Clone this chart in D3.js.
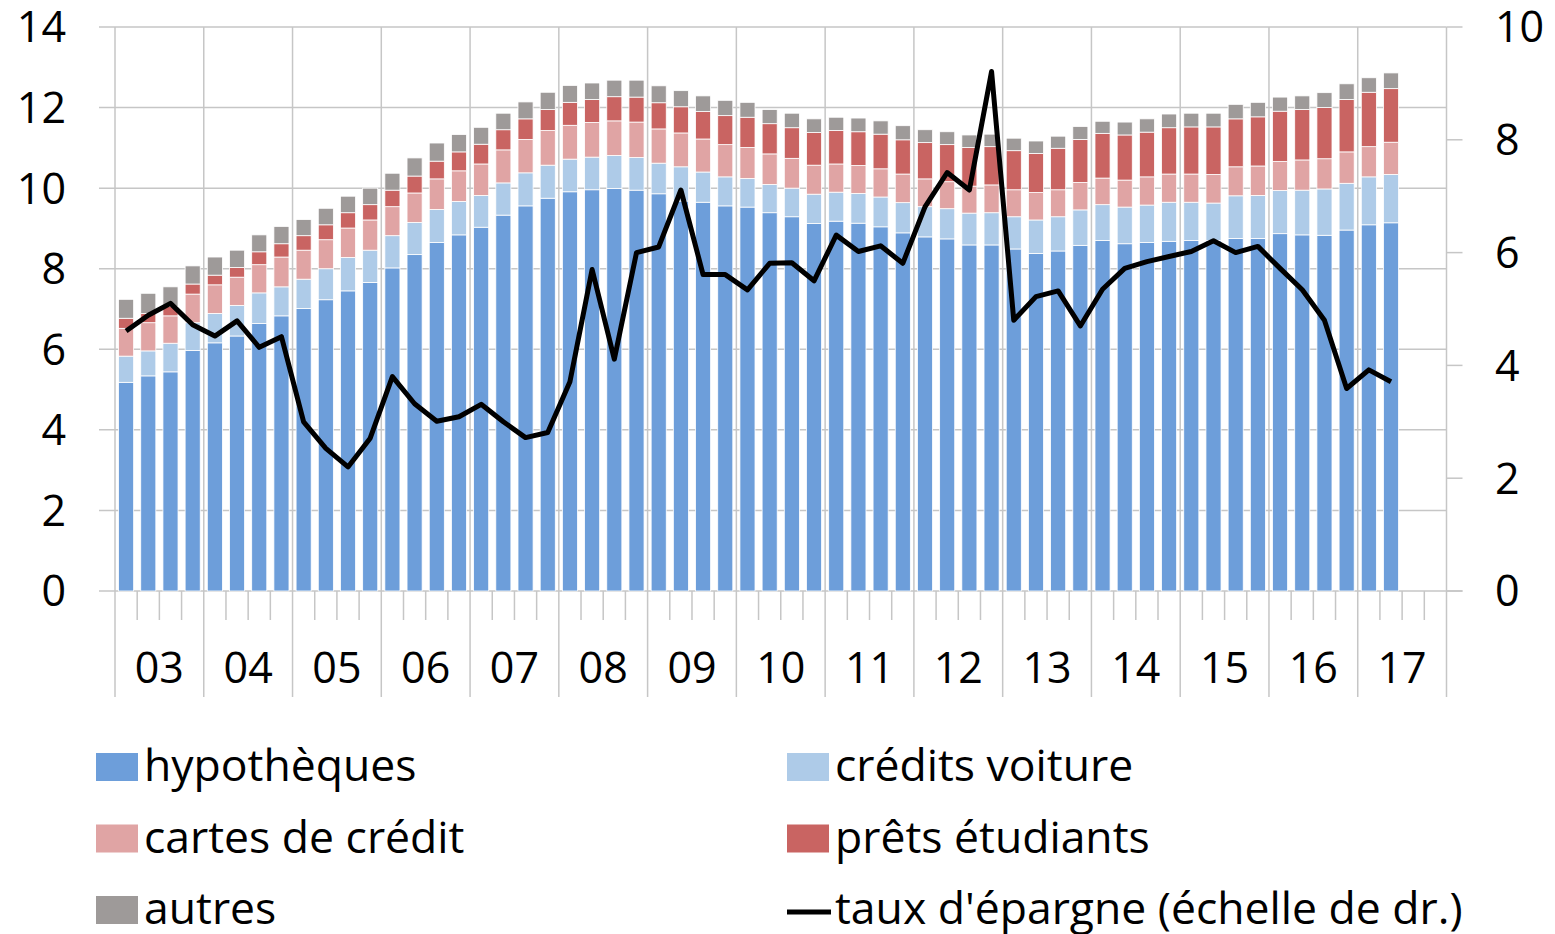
<!DOCTYPE html>
<html lang="fr">
<head>
<meta charset="utf-8">
<title>Dette des ménages et taux d'épargne</title>
<script src="https://cdn.jsdelivr.net/npm/d3@7"></script>
<style>
    body { margin: 0; background: #fff; }
    svg { display: block; font-family: "Open Sans", sans-serif; }
    .grid line { stroke: #c6c6c6; stroke-width: 1.5px; }
    .lbl { font-size: 43px; fill: #000; }
    .leg { font-size: 44.5px; fill: #000; }
    .taux { fill: none; stroke: #000; stroke-width: 5px; stroke-linejoin: round; }
</style>
</head>
<body>
<svg id="chart" width="1555" height="934"></svg>
<script>
    // years on the category axis, each with four quarters
    var years = ['03', '04', '05', '06', '07', '08', '09', '10', '11', '12', '13', '14', '15', '16', '17'];
    var quarters = [];
    years.forEach(function (y) {
        ['T1', 'T2', 'T3', 'T4'].forEach(function (q) { quarters.push(y + q); });
    });

    // stacked components (left scale), 2003T1 .. 2017T2
    var hypotheques = [5.18, 5.34, 5.44, 5.97, 6.16, 6.33, 6.64, 6.83, 7.01, 7.23, 7.45, 7.66, 8.02, 8.35, 8.65, 8.84,
        9.03, 9.33, 9.56, 9.75, 9.91, 9.96, 9.99, 9.95, 9.86, 9.68, 9.65, 9.56, 9.53, 9.39, 9.29, 9.12,
        9.18, 9.13, 9.04, 8.89, 8.79, 8.74, 8.59, 8.59, 8.49, 8.38, 8.44, 8.58, 8.70, 8.62, 8.65, 8.68,
        8.70, 8.70, 8.75, 8.75, 8.87, 8.84, 8.83, 8.96, 9.09, 9.14];
    var creditsVoiture = [0.65, 0.62, 0.71, 0.69, 0.73, 0.76, 0.76, 0.72, 0.73, 0.77, 0.83, 0.80, 0.80, 0.80, 0.82, 0.83,
        0.79, 0.80, 0.82, 0.82, 0.81, 0.81, 0.82, 0.81, 0.76, 0.85, 0.75, 0.72, 0.71, 0.70, 0.71, 0.73,
        0.72, 0.74, 0.74, 0.75, 0.75, 0.75, 0.79, 0.80, 0.80, 0.83, 0.85, 0.88, 0.89, 0.91, 0.93, 0.97,
        0.95, 0.93, 1.06, 1.07, 1.07, 1.11, 1.15, 1.16, 1.19, 1.20];
    var cartesCredit = [0.69, 0.70, 0.68, 0.71, 0.71, 0.70, 0.70, 0.74, 0.72, 0.72, 0.73, 0.75, 0.72, 0.73, 0.76, 0.76,
        0.78, 0.82, 0.83, 0.86, 0.84, 0.86, 0.86, 0.88, 0.85, 0.84, 0.82, 0.80, 0.77, 0.76, 0.74, 0.72,
        0.70, 0.69, 0.70, 0.71, 0.69, 0.67, 0.67, 0.69, 0.67, 0.68, 0.67, 0.68, 0.66, 0.67, 0.70, 0.70,
        0.70, 0.71, 0.72, 0.73, 0.72, 0.75, 0.75, 0.78, 0.75, 0.80];
    var pretsEtudiants = [0.25, 0.23, 0.23, 0.25, 0.24, 0.24, 0.32, 0.33, 0.36, 0.37, 0.38, 0.38, 0.41, 0.42, 0.44, 0.47,
        0.49, 0.50, 0.51, 0.52, 0.57, 0.57, 0.60, 0.62, 0.65, 0.65, 0.68, 0.72, 0.75, 0.75, 0.76, 0.81,
        0.83, 0.84, 0.86, 0.85, 0.90, 0.92, 0.96, 0.95, 0.97, 0.97, 1.03, 1.07, 1.11, 1.12, 1.11, 1.15,
        1.17, 1.18, 1.19, 1.22, 1.25, 1.25, 1.27, 1.30, 1.35, 1.33];
    var autres = [0.47, 0.50, 0.49, 0.45, 0.45, 0.43, 0.42, 0.43, 0.40, 0.41, 0.41, 0.41, 0.42, 0.45, 0.45, 0.43,
        0.42, 0.41, 0.42, 0.43, 0.42, 0.41, 0.41, 0.42, 0.42, 0.40, 0.39, 0.38, 0.37, 0.35, 0.36, 0.34,
        0.33, 0.34, 0.33, 0.35, 0.32, 0.32, 0.31, 0.31, 0.31, 0.31, 0.30, 0.32, 0.30, 0.32, 0.33, 0.34,
        0.34, 0.34, 0.36, 0.36, 0.35, 0.34, 0.37, 0.39, 0.36, 0.39];
    // savings rate (right scale)
    var tauxEpargne = [4.61, 4.89, 5.10, 4.72, 4.52, 4.79, 4.32, 4.51, 3.00, 2.53, 2.20, 2.71, 3.80, 3.32, 3.01, 3.09,
        3.31, 3.00, 2.72, 2.81, 3.71, 5.70, 4.11, 6.00, 6.10, 7.11, 5.61, 5.61, 5.34, 5.81, 5.82, 5.50,
        6.31, 6.02, 6.12, 5.81, 6.81, 7.42, 7.11, 9.21, 4.80, 5.22, 5.32, 4.70, 5.35, 5.72, 5.84, 5.93,
        6.02, 6.21, 6.00, 6.11, 5.72, 5.34, 4.80, 3.59, 3.92, 3.71];

    var leftTicks = [0, 2, 4, 6, 8, 10, 12, 14];
    var rightTicks = [0, 2, 4, 6, 8, 10];

    var series = [
        {key: 'hyp', label: 'hypothèques', color: '#6d9eda', values: hypotheques},
        {key: 'voit', label: 'crédits voiture', color: '#aecbe8', values: creditsVoiture},
        {key: 'cartes', label: 'cartes de crédit', color: '#e0a4a4', values: cartesCredit},
        {key: 'prets', label: 'prêts étudiants', color: '#c96462', values: pretsEtudiants},
        {key: 'autres', label: 'autres', color: '#9e9a99', values: autres}
    ];

    var table = hypotheques.map(function (v, i) {
        var row = {q: quarters[i], taux: tauxEpargne[i]};
        series.forEach(function (s) { row[s.key] = s.values[i]; });
        return row;
    });

    var plot = {left: 115, right: 1446.5, top: 27, bottom: 591};

    var x = d3.scaleBand()
        .domain(quarters)
        .range([plot.left, plot.right])
        .paddingInner(0.32)
        .paddingOuter(0.16);
    var step = x.step();

    var yL = d3.scaleLinear().domain([0, 14]).range([plot.bottom, plot.top]);
    var yR = d3.scaleLinear().domain([0, 10]).range([plot.bottom, plot.top]);

    var svg = d3.select('#chart');

    // horizontal grid (with short left ticks)
    var grid = svg.append('g').attr('class', 'grid');
    grid.selectAll('.h').data(leftTicks).enter().append('line')
        .attr('x1', plot.left - 16)
        .attr('x2', function (d) { return d === 0 ? plot.right + 16 : plot.right; })
        .attr('y1', function (d) { return yL(d); })
        .attr('y2', function (d) { return yL(d); });
    // right axis ticks
    grid.selectAll('.r').data(rightTicks).enter().append('line')
        .attr('x1', plot.right)
        .attr('x2', plot.right + 16)
        .attr('y1', function (d) { return yR(d); })
        .attr('y2', function (d) { return yR(d); });

    // year separators run from the top of the plot down through the labels
    var yearEdges = years.map(function (y) { return x(y + 'T1') - step * 0.16; });
    yearEdges.push(plot.right);
    grid.selectAll('.v').data(yearEdges).enter().append('line')
        .attr('x1', function (d) { return d; })
        .attr('x2', function (d) { return d; })
        .attr('y1', plot.top)
        .attr('y2', 697);

    // quarter ticks below the axis
    var innerQ = quarters.filter(function (q) { return q.slice(2) !== 'T1'; });
    grid.selectAll('.q').data(innerQ).enter().append('line')
        .attr('x1', function (d) { return x(d) - step * 0.16; })
        .attr('x2', function (d) { return x(d) - step * 0.16; })
        .attr('y1', plot.bottom)
        .attr('y2', 620);

    // stacked bars
    var stack = d3.stack().keys(series.map(function (s) { return s.key; }));
    var layers = stack(table);

    svg.append('g').selectAll('g')
        .data(layers)
        .enter().append('g')
        .attr('fill', function (d, i) { return series[i].color; })
        .selectAll('rect')
        .data(function (d) { return d; })
        .enter().append('rect')
        .attr('x', function (d) { return x(d.data.q); })
        .attr('width', x.bandwidth())
        .attr('y', function (d) { return yL(d[1]); })
        .attr('height', function (d) { return yL(d[0]) - yL(d[1]); })
        .attr('stroke', '#fff')
        .attr('stroke-width', 0.8);

    // savings rate line
    var line = d3.line()
        .x(function (d) { return x(d.q) + x.bandwidth() / 2; })
        .y(function (d) { return yR(d.taux); });

    svg.append('path')
        .datum(table)
        .attr('class', 'taux')
        .attr('d', line);

    // axis labels
    svg.append('g').selectAll('text').data(leftTicks).enter().append('text')
        .attr('class', 'lbl')
        .attr('x', 66)
        .attr('y', function (d) { return yL(d); })
        .attr('dy', '0.36em')
        .attr('text-anchor', 'end')
        .text(function (d) { return d; });

    svg.append('g').selectAll('text').data(rightTicks).enter().append('text')
        .attr('class', 'lbl')
        .attr('x', 1495)
        .attr('y', function (d) { return yR(d); })
        .attr('dy', '0.36em')
        .text(function (d) { return d; });

    svg.append('g').selectAll('text').data(years).enter().append('text')
        .attr('class', 'lbl')
        .attr('x', function (d) { return x(d + 'T1') - step * 0.16 + step * 2; })
        .attr('y', 668)
        .attr('dy', '0.36em')
        .attr('text-anchor', 'middle')
        .text(function (d) { return d; });

    // legend: two columns, three rows
    var legendItems = series.map(function (s) { return {label: s.label, color: s.color}; });
    legendItems.push({label: "taux d'épargne (échelle de dr.)", line: true});
    var order = [0, 2, 4, 1, 3, 5]; // column-major placement of the items above
    var legend = svg.append('g');
    legendItems.forEach(function (item, i) {
        var pos = order.indexOf(i);
        var col = pos < 3 ? 0 : 1;
        var row = pos % 3;
        var gx = col === 0 ? 96 : 787;
        var base = 781 + row * 71.5;
        var g = legend.append('g');
        if (item.line) {
            g.append('line')
                .attr('x1', gx).attr('x2', gx + 44)
                .attr('y1', base - 12).attr('y2', base - 12)
                .attr('stroke', '#000').attr('stroke-width', 5);
        } else {
            g.append('rect')
                .attr('x', gx).attr('y', base - 28)
                .attr('width', 42).attr('height', 28)
                .attr('fill', item.color);
        }
        g.append('text')
            .attr('class', 'leg')
            .attr('x', gx + 48)
            .attr('y', base)
            .text(item.label);
    });
</script>
</body>
</html>
